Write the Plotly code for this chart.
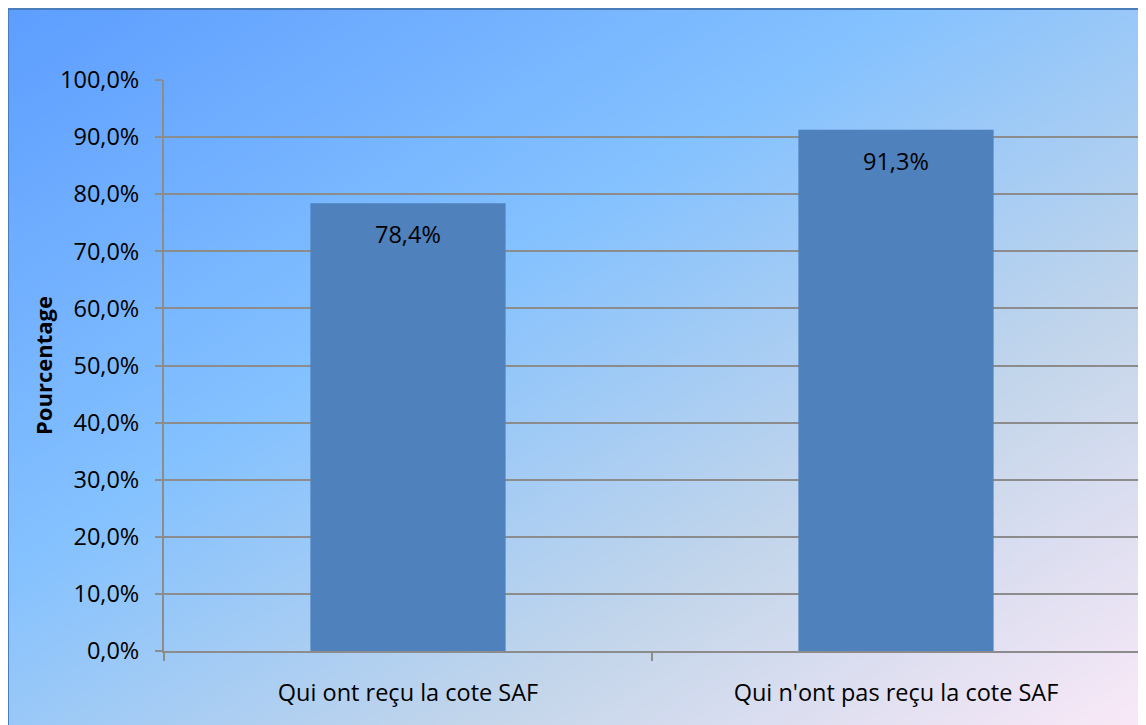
import zlib, struct, base64
import numpy as np
import plotly.graph_objects as go

# ---- data ----
categories = ["Qui ont reçu la cote SAF", "Qui n'ont pas reçu la cote SAF"]
values = [78.4, 91.3]
value_labels = ["78,4%", "91,3%"]
y_title = "Pourcentage"

W, H = 1146, 725
L, R, T, B = 156, 14, 72, 82
PW, PH = W - L - R, H - T - B

# ---- gradient background image ----
def make_png(arr):
    h, w, _ = arr.shape
    raw = b"".join(b"\x00" + arr[i].tobytes() for i in range(h))
    def chunk(t, d):
        c = struct.pack(">I", len(d)) + t + d
        return c + struct.pack(">I", zlib.crc32(t + d) & 0xFFFFFFFF)
    return (b"\x89PNG\r\n\x1a\n" + chunk(b"IHDR", struct.pack(">IIBBBBB", w, h, 8, 2, 0, 0, 0))
            + chunk(b"IDAT", zlib.compress(raw, 9)) + chunk(b"IEND", b""))

gx0, gy0 = 1, 2
gw, gh = (W - gx0) // 2, (H - gy0) // 2
stops_t = [0.0, 0.39, 0.7, 1.0]
stops_c = np.array([[94, 158, 255], [133, 194, 255], [196, 214, 235], [252, 234, 248]], float)
xx, yy = np.meshgrid(np.linspace(0, 1, gw), np.linspace(0, 1, gh))
t = (xx + yy) / 2
img = np.zeros((gh, gw, 3))
for ch in range(3):
    img[..., ch] = np.interp(t, stops_t, stops_c[:, ch])
img = np.clip(img, 0, 255).astype(np.uint8)
uri = "data:image/png;base64," + base64.b64encode(make_png(img)).decode()

def px(x):
    return (x - L) / PW
def py(y):
    return (H - B - y) / PH

font = "Open Sans"

fig = go.Figure(go.Bar(
    x=categories, y=values, width=0.4,
    marker=dict(color="#4F81BD", line=dict(width=0)),
))

for c, v, lab in zip(categories, values, value_labels):
    fig.add_annotation(x=c, y=v, text=lab, showarrow=False, yanchor="top", yshift=-13,
                       font=dict(family=font, size=23.5, color="black"))

fig.add_layout_image(dict(source=uri, xref="paper", yref="paper", x=px(gx0), y=py(gy0),
                          sizex=px(W) - px(gx0), sizey=py(gy0) - py(H), xanchor="left", yanchor="top",
                          sizing="stretch", layer="below"))

# border lines
fig.add_shape(type="line", xref="paper", yref="paper", x0=px(0), x1=px(W), y0=py(1), y1=py(1),
              line=dict(color="#4A7EBB", width=2))
fig.add_shape(type="line", xref="paper", yref="paper", x0=px(0), x1=px(0), y0=py(0), y1=py(H),
              line=dict(color="#4A7EBB", width=2))
# right-end category tick
fig.add_shape(type="line", xref="paper", yref="paper", x0=1, x1=1, y0=0, y1=py(H - B + 8),
              line=dict(color="#8C8C8C", width=2))

fig.update_layout(
    width=W, height=H,
    margin=dict(l=L, r=R, t=T, b=B, pad=0),
    paper_bgcolor="white", plot_bgcolor="rgba(0,0,0,0)",
    separators=", ",
    showlegend=False,
    bargap=0.6,
    font=dict(family=font, size=23.5, color="black"),
    xaxis=dict(showgrid=False, showline=True, linecolor="#8C8C8C", linewidth=2,
               ticks="outside", ticklen=8, tickwidth=2, tickcolor="#8C8C8C",
               tickson="boundaries", ticklabelstandoff=20,
               tickfont=dict(family=font, size=23.5)),
    yaxis=dict(range=[0, 100], dtick=10, tickformat=".1f", ticksuffix="%",
               showgrid=True, gridcolor="#8C8C8C", gridwidth=2,
               showline=True, linecolor="#8C8C8C", linewidth=2,
               ticks="outside", ticklen=7, tickwidth=2, tickcolor="#8C8C8C",
               ticklabelstandoff=11, zeroline=False,
               tickfont=dict(family=font, size=23.5),
               title=dict(text="<b>" + y_title + "</b>", standoff=1,
                          font=dict(family=font, size=22))),
)

fig.write_html("out.html")
